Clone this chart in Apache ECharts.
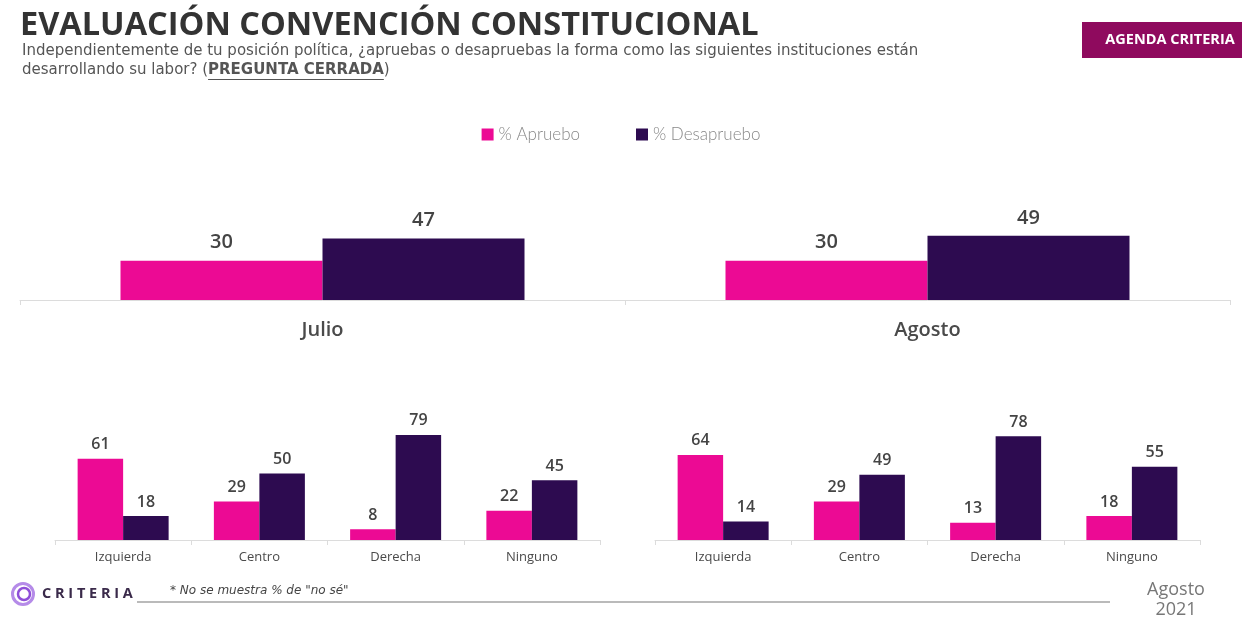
<!DOCTYPE html>
<html>
<head>
<meta charset="utf-8">
<script src="https://cdn.jsdelivr.net/npm/echarts@6/dist/echarts.min.js"></script>
<style>
  html, body { margin: 0; padding: 0; background: #fff; }
  #chart { width: 1242px; height: 620px; }
</style>
</head>
<body>
<div id="chart"></div>
<script>
// data
var months = ['Julio', 'Agosto'];
var aprueboMes = [30, 30];
var desaprueboMes = [47, 49];

var posiciones = ['Izquierda', 'Centro', 'Derecha', 'Ninguno'];
var aprueboJulio = [61, 29, 8, 22];
var desaprueboJulio = [18, 50, 79, 45];
var aprueboAgosto = [64, 29, 13, 18];
var desaprueboAgosto = [14, 49, 78, 55];

var PINK = '#ec0a94';
var DARK = '#2d0b50';
var FONT = '"Open Sans", "DejaVu Sans", sans-serif';
var SUB = '"DejaVu Sans", sans-serif';

var chart = echarts.init(document.getElementById('chart'));

// measure text so the underline sits under "PREGUNTA CERRADA"
var ctx = document.createElement('canvas').getContext('2d');
function textW(font, s) { ctx.font = font; return ctx.measureText(s).width; }
var subSize = 15;
var subFont = subSize + 'px ' + SUB;
var subBold = 'bold ' + subSize + 'px ' + SUB;
var ulX1 = 22 + textW(subFont, 'desarrollando su labor? (');
var ulX2 = ulX1 + textW(subBold, 'PREGUNTA CERRADA');

function catAxis(grid, data, size, margin, weight) {
  return {
    type: 'category', gridIndex: grid, data: data,
    axisLine: { lineStyle: { color: '#dcdcdc', width: 1 } },
    axisTick: { show: true, length: 5, lineStyle: { color: '#dcdcdc' } },
    axisLabel: { color: '#4a4a4a', fontSize: size, fontFamily: FONT, fontWeight: weight, margin: margin }
  };
}
function valAxis(grid) {
  return { type: 'value', gridIndex: grid, min: 0, max: 100, show: false, splitLine: { show: false } };
}
function barSeries(name, color, xi, data, width, fs, dist) {
  return {
    name: name, type: 'bar', xAxisIndex: xi, yAxisIndex: xi, data: data,
    barWidth: width, barGap: '0%',
    itemStyle: { color: color },
    label: { show: true, position: 'top', distance: dist, color: '#444', fontSize: fs, fontFamily: FONT, fontWeight: 600 }
  };
}

var option = {
  backgroundColor: '#fff',
  animation: false,
  legend: {
    data: ['% Apruebo', '% Desapruebo'],
    top: 121, left: 'center',
    itemWidth: 12, itemHeight: 12, itemGap: 56,
    icon: 'rect',
    textStyle: { color: '#888', fontSize: 17, fontFamily: 'Lato, sans-serif', fontWeight: 300 }
  },
  grid: [
    { left: 20, width: 1210, top: 169, height: 131 },
    { left: 55, width: 545, top: 407, height: 133 },
    { left: 655, width: 545, top: 407, height: 133 }
  ],
  xAxis: [
    catAxis(0, months, 20, 20, 600),
    catAxis(1, posiciones, 13, 11, 'normal'),
    catAxis(2, posiciones, 13, 11, 'normal')
  ],
  yAxis: [valAxis(0), valAxis(1), valAxis(2)],
  series: [
    barSeries('% Apruebo', PINK, 0, aprueboMes, 202, 20, 8),
    barSeries('% Desapruebo', DARK, 0, desaprueboMes, 202, 20, 8),
    barSeries('% Apruebo', PINK, 1, aprueboJulio, 45.5, 16, 6),
    barSeries('% Desapruebo', DARK, 1, desaprueboJulio, 45.5, 16, 6),
    barSeries('% Apruebo', PINK, 2, aprueboAgosto, 45.5, 16, 6),
    barSeries('% Desapruebo', DARK, 2, desaprueboAgosto, 45.5, 16, 6)
  ],
  graphic: [
    { type: 'text', left: 20, top: 9,
      style: { text: 'EVALUACIÓN CONVENCIÓN CONSTITUCIONAL', fill: '#333', font: 'bold 32.5px ' + FONT } },
    { type: 'text', left: 22, top: 42,
      style: {
        text: 'Independientemente de tu posición política, ¿apruebas o desapruebas la forma como las siguientes instituciones están\n' +
              '{n|desarrollando su labor? (}{b|PREGUNTA CERRADA}{n|)}',
        fill: '#555', font: subFont, lineHeight: 19,
        rich: {
          n: { fill: '#555', fontSize: subSize, fontFamily: SUB, lineHeight: 19 },
          b: { fill: '#555', fontSize: subSize, fontFamily: SUB, fontWeight: 'bold', lineHeight: 19 }
        }
      } },
    { type: 'line', shape: { x1: ulX1, y1: 79.5, x2: ulX2, y2: 79.5 }, style: { stroke: '#555', lineWidth: 1 } },
    { type: 'rect', shape: { x: 1082, y: 22, width: 160, height: 36 }, style: { fill: '#8f0a5e' } },
    { type: 'text', x: 1170, y: 40,
      style: { text: 'AGENDA CRITERIA', fill: '#fff', font: 'bold 14.5px ' + FONT, align: 'center', verticalAlign: 'middle' } },
    // footer logo
    { type: 'circle', shape: { cx: 23, cy: 594, r: 10.5 }, style: { fill: 'none', stroke: '#b58be8', lineWidth: 3 } },
    { type: 'circle', shape: { cx: 24, cy: 594, r: 6 }, style: { fill: 'none', stroke: '#8f4fd8', lineWidth: 2.5 } },
    { type: 'text', left: 42, top: 586,
      style: { text: 'C R I T E R I A', fill: '#3a2a4a', font: 'bold 14.5px ' + FONT } },
    { type: 'line', shape: { x1: 137, y1: 602, x2: 1110, y2: 602 }, style: { stroke: '#777', lineWidth: 1.2 } },
    { type: 'text', left: 170, top: 585,
      style: { text: '* No se muestra % de "no sé"', fill: '#444', font: 'italic 12px ' + SUB } },
    { type: 'text', x: 1176, y: 600,
      style: { text: 'Agosto\n2021', fill: '#777', font: '500 18px ' + FONT, align: 'center', verticalAlign: 'middle', lineHeight: 20 } }
  ]
};

chart.setOption(option);
</script>
</body>
</html>
